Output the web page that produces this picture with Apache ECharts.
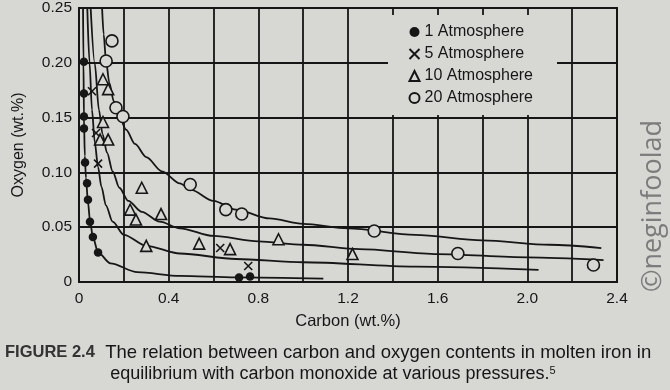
<!DOCTYPE html>
<html>
<head>
<meta charset="utf-8">
<script src="https://cdn.jsdelivr.net/npm/echarts@6/dist/echarts.min.js"></script>
<style>
html,body{margin:0;padding:0;background:#d7d7d4;}
#chart{width:670px;height:390px;}
</style>
</head>
<body>
<div id="chart"></div>
<script>
// ---- data ----
const seriesNames = ['1 Atmosphere', '5 Atmosphere', '10 Atmosphere', '20 Atmosphere'];
const xTickLabels = ['0', '0.4', '0.8', '1.2', '1.6', '2.0', '2.4'];
const yTickLabels = ['0', '0.05', '0.10', '0.15', '0.20', '0.25'];

// measured points [carbon, oxygen]
const atm1Points = [[0.022,0.201],[0.022,0.172],[0.022,0.151],[0.022,0.140],[0.027,0.109],[0.036,0.090],[0.040,0.075],[0.049,0.055],[0.062,0.041],[0.085,0.027],[0.714,0.004],[0.763,0.005]];
const atm5Points = [[0.058,0.174],[0.076,0.136],[0.085,0.108],[0.63,0.031],[0.755,0.0146]];
const atm10Points = [[0.107,0.185],[0.13,0.176],[0.107,0.146],[0.094,0.130],[0.13,0.130],[0.28,0.086],[0.228,0.066],[0.254,0.057],[0.366,0.062],[0.30,0.033],[0.536,0.035],[0.674,0.030],[0.89,0.039],[1.22,0.0255]];
const atm20Points = [[0.147,0.22],[0.121,0.2016],[0.165,0.159],[0.196,0.151],[0.496,0.089],[0.655,0.066],[0.726,0.062],[1.317,0.0465],[1.69,0.026],[2.295,0.0155]];

// equilibrium curves
const atm1Curve = [[0.018,0.25],[0.020,0.20],[0.022,0.15],[0.026,0.115],[0.031,0.095],[0.040,0.073],[0.049,0.056],[0.062,0.041],[0.085,0.027],[0.14,0.017],[0.26,0.009],[0.45,0.0055],[0.7,0.0042],[1.09,0.003]];
const atm5Curve = [[0.037,0.25],[0.047,0.20],[0.058,0.157],[0.07,0.128],[0.085,0.105],[0.10,0.087],[0.12,0.07],[0.15,0.055],[0.2,0.043],[0.3,0.033],[0.45,0.026],[0.7,0.021],[1.0,0.018],[1.5,0.014],[2.05,0.011]];
const atm10Curve = [[0.052,0.25],[0.07,0.20],[0.089,0.157],[0.105,0.135],[0.125,0.118],[0.15,0.101],[0.18,0.086],[0.22,0.074],[0.28,0.064],[0.36,0.055],[0.45,0.049],[0.6,0.042],[0.8,0.037],[1.0,0.034],[1.25,0.030],[1.6,0.0255],[2.0,0.0225],[2.34,0.020]];
const atm20Curve = [[0.103,0.25],[0.11,0.226],[0.12,0.203],[0.135,0.182],[0.155,0.165],[0.18,0.151],[0.21,0.139],[0.25,0.126],[0.3,0.114],[0.37,0.101],[0.45,0.090],[0.5,0.084],[0.6,0.074],[0.7,0.066],[0.85,0.058],[1.0,0.053],[1.2,0.049],[1.5,0.043],[1.8,0.038],[2.1,0.034],[2.33,0.031]];

// ---- chart ----
const PAPER = '#d7d7d4';
const INK = '#161616';
const FONT = 'Liberation Sans, Arial, sans-serif';

const chart = echarts.init(document.getElementById('chart'), null, {renderer: 'canvas'});

function curve(data) {
  return {
    type: 'line', data: data, smooth: 0.3, smoothMonotone: 'x',
    showSymbol: false, silent: true, z: 2,
    lineStyle: {color: INK, width: 1.8}
  };
}
function pts(name, data, symbol, size, fill, bw) {
  return {
    name: name, type: 'scatter', data: data, symbol: symbol, symbolSize: size, z: 5,
    itemStyle: {color: fill, borderColor: INK, borderWidth: bw, opacity: 1}
  };
}

const option = {
  backgroundColor: PAPER,
  animation: false,
  grid: {left: 79, right: 53, top: 8, bottom: 108, show: true, borderColor: INK, borderWidth: 2, backgroundColor: 'transparent'},
  xAxis: {
    type: 'value', min: 0, max: 2.4, interval: 0.2,
    name: 'Carbon (wt.%)', nameLocation: 'middle', nameGap: 31,
    nameTextStyle: {fontFamily: FONT, fontSize: 16.5, color: INK},
    axisLine: {show: true, lineStyle: {color: INK, width: 2}},
    axisTick: {show: false},
    axisLabel: {
      fontFamily: FONT, fontSize: 15.5, color: INK, margin: 9,
      formatter: function (v) { const i = Math.round(v / 0.2); return i % 2 === 0 ? xTickLabels[i / 2] : ''; }
    },
    splitLine: {show: true, lineStyle: {color: INK, width: 1.8}}
  },
  yAxis: {
    type: 'value', min: 0, max: 0.25, interval: 0.05,
    name: 'Oxygen (wt.%)', nameLocation: 'middle', nameGap: 52,
    nameTextStyle: {fontFamily: FONT, fontSize: 16, color: INK},
    axisLine: {show: true, lineStyle: {color: INK, width: 2}},
    axisTick: {show: false},
    axisLabel: {
      fontFamily: FONT, fontSize: 15.5, color: INK, margin: 7,
      formatter: function (v) { return yTickLabels[Math.round(v / 0.05)]; }
    },
    splitLine: {show: true, lineStyle: {color: INK, width: 1.8}}
  },
  legend: {
    data: seriesNames, orient: 'vertical', left: 388, top: 15,
    backgroundColor: PAPER, padding: [9, 24, 9, 19],
    itemWidth: 10, itemHeight: 10, itemGap: 6,
    textStyle: {fontFamily: FONT, fontSize: 16, color: INK}
  },
  series: [
    curve(atm1Curve), curve(atm5Curve), curve(atm10Curve), curve(atm20Curve),
    pts(seriesNames[0], atm1Points, 'circle', 8.5, INK, 0),
    pts(seriesNames[1], atm5Points, 'path://M0,0L10,10M10,0L0,10', 8, 'none', 1.6),
    pts(seriesNames[2], atm10Points, 'triangle', 11, PAPER, 1.6),
    pts(seriesNames[3], atm20Points, 'circle', 12, PAPER, 1.6)
  ],
  graphic: [
    {
      type: 'text', left: 5, top: 343, silent: true,
      style: {
        text: '{b|FIGURE 2.4}  The relation between carbon and oxygen contents in molten iron in',
        fontFamily: FONT, fontSize: 18.5, fill: INK,
        rich: {b: {fontFamily: FONT, fontSize: 16.5, fontWeight: 'bold', fill: '#333'}}
      }
    },
    {
      type: 'text', x: 333, y: 374, silent: true,
      style: {
        text: 'equilibrium with carbon monoxide at various pressures.{s|5}',
        fontFamily: FONT, fontSize: 18, fill: INK, align: 'center', verticalAlign: 'middle',
        rich: {s: {fontFamily: FONT, fontSize: 11, verticalAlign: 'top', fill: INK}}
      }
    },
    {
      type: 'text', x: 653, y: 206, rotation: Math.PI / 2, silent: true,
      style: {
        text: '©neginfoolad', fontFamily: 'Open Sans, sans-serif', fontSize: 27,
        fill: '#7c7c7c', align: 'center', verticalAlign: 'middle'
      }
    }
  ]
};
chart.setOption(option);
</script>
</body>
</html>
